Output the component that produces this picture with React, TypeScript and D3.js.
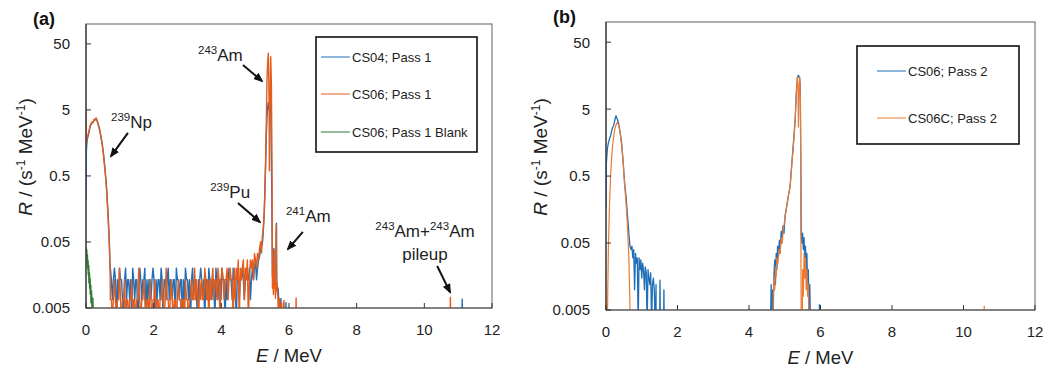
import React from 'react';
import * as d3 from 'd3';

type Pt = [number, number];

const BLUE = '#1f6fb8';
const ORANGE_A = '#e45d1c';
const ORANGE_B = '#ec7a32';
const GREEN = '#2e7d32';

const xTicks = [0, 2, 4, 6, 8, 10, 12];
const yTicks = [0.005, 0.05, 0.5, 5, 50];
const yTickLabels = ['0.005', '0.05', '0.5', '5', '50'];

// ---- panel (a) ----
// 239Np hump, [E MeV, R s-1 MeV-1]
const npA_CS04: Pt[] = [
  [0, 0.22], [0.01, 1.2], [0.03, 1.7], [0.06, 2.0], [0.09, 2.3], [0.12, 2.8], [0.15, 3.0],
  [0.18, 3.2], [0.21, 3.3], [0.24, 3.5], [0.27, 3.6], [0.30, 3.7], [0.33, 3.4], [0.36, 3.0],
  [0.40, 2.5], [0.44, 2.0], [0.48, 1.5], [0.52, 1.05], [0.56, 0.65], [0.60, 0.38],
  [0.63, 0.21], [0.66, 0.11], [0.69, 0.05], [0.71, 0.022],
];
const npA_CS06: Pt[] = [
  [0, 5.0], [0.01, 1.5], [0.03, 1.9], [0.06, 2.1], [0.09, 2.4], [0.12, 2.9], [0.15, 3.1],
  [0.18, 3.3], [0.21, 3.2], [0.24, 3.6], [0.27, 3.5], [0.30, 3.8], [0.33, 3.4], [0.36, 3.1],
  [0.40, 2.6], [0.44, 2.0], [0.48, 1.5], [0.52, 1.0], [0.56, 0.62], [0.60, 0.36],
  [0.63, 0.2], [0.66, 0.1], [0.69, 0.045], [0.71, 0.02],
];
const blankA_CS06: Pt[] = [
  [0, 0.042], [0.01, 0.03], [0.02, 0.038], [0.03, 0.024], [0.04, 0.032], [0.05, 0.02],
  [0.06, 0.026], [0.07, 0.016], [0.08, 0.022], [0.09, 0.012], [0.10, 0.017], [0.11, 0.01],
  [0.12, 0.014], [0.13, 0.008], [0.14, 0.011], [0.15, 0.006], [0.16, 0.009], [0.18, 0.005],
  [0.20, 0.007], [0.22, 0],
];

// low-level background, counts per 0.03 MeV channel starting at 0.72 MeV
const bgStartA = 0.72;
const bgStepA = 0.03;
const ratePerCountA = 0.0067;
const bgA_CS04 = [
  3, 2, 1, 2, 3, 2, 0, 2, 1, 3, 2, 2, 1, 0, 2, 3, 1, 2, 2, 1,
  2, 0, 3, 2, 1, 2, 2, 0, 1, 3, 2, 1, 2, 2, 3, 0, 2, 1, 2, 2,
  1, 2, 3, 2, 0, 2, 1, 2, 2, 1, 3, 2, 0, 2, 2, 1, 2, 3, 1, 2,
  2, 1, 2, 2, 0, 3, 2, 2, 1, 2, 2, 0, 2, 1, 3, 2, 2, 1, 2, 0,
  2, 3, 1, 2, 2, 1, 0, 2, 2, 3, 2, 1, 2, 0, 2, 2, 1, 3, 2, 2,
  1, 2, 2, 0, 3, 2, 1, 2, 2, 1, 3, 2, 2, 0, 2, 1, 2, 3, 2, 2,
  1, 3, 2, 2, 0, 2, 3, 1, 2, 2, 3, 2, 1, 2, 3, 2, 2, 3, 1, 2,
  3, 2, 3, 4, 2, 3, 4,
];
const bgA_CS06 = [
  1, 1, 0, 1, 2, 1, 0, 1, 1, 3, 1, 0, 1, 1, 2, 0, 1, 1, 0, 1,
  1, 2, 0, 1, 1, 0, 1, 1, 3, 1, 0, 1, 1, 2, 1, 0, 1, 1, 0, 2,
  1, 0, 1, 1, 2, 0, 1, 1, 0, 1, 1, 2, 1, 0, 1, 3, 1, 1, 0, 1,
  2, 1, 0, 1, 1, 0, 1, 2, 1, 1, 0, 1, 1, 0, 2, 1, 1, 0, 1, 1,
  2, 1, 1, 3, 1, 2, 1, 0, 2, 1, 2, 1, 1, 3, 2, 1, 2, 0, 2, 1,
  2, 3, 1, 2, 2, 1, 3, 2, 0, 2, 3, 2, 1, 2, 2, 3, 1, 2, 3, 2,
  2, 0, 3, 1, 3, 2, 4, 0, 3, 2, 3, 4, 1, 3, 2, 4, 0, 2, 4, 3,
  4, 2, 5, 4, 3, 5, 4,
];

// 243Am doublet, 241Am shoulder, tail and pileup
const amA_CS04: Pt[] = [
  [5.13, 0.03], [5.16, 0.04], [5.19, 0.05], [5.21, 0.045], [5.23, 0.06], [5.25, 0.09],
  [5.27, 0.15], [5.29, 0.35], [5.31, 0.8], [5.33, 2.0], [5.35, 4.0], [5.37, 5.5], [5.39, 6.5],
  [5.41, 5.0], [5.43, 6.0], [5.45, 6.3], [5.47, 3.0], [5.49, 0.3], [5.51, 0.015], [5.53, 0.02],
  [5.55, 0.04], [5.57, 0.015], [5.59, 0.01], [5.61, 0.02], [5.63, 0.096], [5.64, 0.012],
  [5.66, 0.008], [5.68, 0.01], [5.70, 0.006], [5.72, 0], [5.76, 0.007], [5.78, 0],
  [5.90, 0], [5.91, 0.006], [5.92, 0], [11.11, 0], [11.12, 0.0068], [11.13, 0], [12, 0],
];
const amA_CS06: Pt[] = [
  [5.13, 0.04], [5.16, 0.05], [5.19, 0.034], [5.21, 0.06], [5.23, 0.07], [5.25, 0.1],
  [5.27, 0.14], [5.29, 0.3], [5.31, 0.9], [5.33, 3.5], [5.35, 14], [5.37, 28], [5.39, 36],
  [5.41, 8], [5.42, 0.6], [5.44, 5], [5.46, 32], [5.48, 12], [5.50, 0.5], [5.51, 0.01],
  [5.52, 0.013], [5.54, 0.008], [5.56, 0.038], [5.57, 0.01], [5.59, 0.012], [5.60, 0.007],
  [5.62, 0.09], [5.63, 0.009], [5.65, 0.012], [5.67, 0.008], [5.69, 0], [5.72, 0.007],
  [5.74, 0], [5.78, 0.006], [5.80, 0], [5.85, 0.0065], [5.87, 0], [6.20, 0], [6.21, 0.0071],
  [6.22, 0], [10.76, 0], [10.77, 0.0073], [10.78, 0], [12, 0],
];

// ---- panel (b) ----
const npB_CS06: Pt[] = [
  [0, 0.17], [0.01, 0.78], [0.04, 1.3], [0.07, 1.6], [0.10, 1.8], [0.13, 2.0], [0.16, 2.4],
  [0.19, 2.7], [0.22, 2.9], [0.25, 3.5], [0.28, 4.0], [0.31, 3.6], [0.34, 3.3], [0.37, 2.7],
  [0.40, 2.2], [0.44, 1.5], [0.48, 0.8], [0.52, 0.4], [0.56, 0.25], [0.60, 0.13],
  [0.64, 0.07], [0.67, 0.045],
];
// R per 0.025 MeV channel starting at 0.70 MeV
const bgStartB = 0.70;
const bgStepB = 0.025;
const bgB_CS06 = [
  0.04, 0.045, 0.03, 0.04, 0.01, 0.035, 0.025, 0.03, 0, 0.03,
  0.02, 0.028, 0.015, 0.025, 0.02, 0.01, 0.022, 0.018, 0, 0.02,
  0.015, 0.012, 0.018, 0, 0.012, 0.015, 0.01, 0, 0.012,
];
const amB_CS06: Pt[] = [
  [1.40, 0], [1.50, 0], [1.51, 0.014], [1.52, 0], [1.61, 0], [1.62, 0.01], [1.63, 0],
  [4.60, 0], [4.62, 0.012], [4.63, 0], [4.66, 0.01], [4.67, 0], [4.70, 0.018], [4.72, 0.028],
  [4.74, 0.012], [4.76, 0.035], [4.78, 0.02], [4.80, 0.045], [4.82, 0.03], [4.85, 0.055],
  [4.87, 0.035], [4.90, 0.075], [4.92, 0.05], [4.95, 0.09], [4.98, 0.07], [5.01, 0.13],
  [5.05, 0.17], [5.10, 0.25], [5.15, 0.35], [5.19, 0.69], [5.24, 1.5], [5.29, 3.4],
  [5.33, 10], [5.36, 15], [5.38, 16], [5.41, 15], [5.43, 12], [5.45, 1.0], [5.46, 0.07],
  [5.48, 0.05], [5.50, 0.07], [5.52, 0.04], [5.54, 0.06], [5.56, 0.03], [5.58, 0.045],
  [5.60, 0.02], [5.62, 0.035], [5.64, 0.01], [5.66, 0.02], [5.68, 0], [5.70, 0.012],
  [5.72, 0], [5.96, 0], [5.97, 0.006], [5.98, 0], [12, 0],
];
const npB_CS06C: Pt[] = [
  [0, 0], [0.04, 0], [0.05, 0.01], [0.07, 0.05], [0.10, 0.2], [0.13, 0.5], [0.16, 1.0],
  [0.20, 1.7], [0.24, 2.4], [0.28, 2.9], [0.32, 3.2], [0.36, 2.8], [0.40, 2.1], [0.44, 1.4],
  [0.48, 0.8], [0.52, 0.38], [0.56, 0.2], [0.60, 0.09], [0.64, 0.03], [0.66, 0.01], [0.68, 0],
];
const amB_CS06C: Pt[] = [
  [4.66, 0], [4.68, 0.008], [4.70, 0.015], [4.72, 0.01], [4.74, 0.022], [4.76, 0.016],
  [4.78, 0.03], [4.81, 0.025], [4.84, 0.04], [4.87, 0.035], [4.90, 0.06], [4.93, 0.05],
  [4.96, 0.08], [5.00, 0.11], [5.05, 0.17], [5.10, 0.25], [5.15, 0.35], [5.19, 0.65],
  [5.24, 1.4], [5.29, 3.2], [5.32, 8], [5.35, 15], [5.37, 12], [5.38, 2.7], [5.40, 9],
  [5.42, 15], [5.44, 6], [5.45, 0.1], [5.46, 0], [5.49, 0], [5.50, 0.02], [5.52, 0.008],
  [5.54, 0.035], [5.56, 0.015], [5.58, 0.03], [5.60, 0.01], [5.62, 0.02], [5.64, 0.008],
  [5.66, 0.012], [5.68, 0], [10.57, 0], [10.58, 0.0057], [10.59, 0], [12, 0],
];

const fromCounts = (start: number, step: number, counts: number[], k: number): Pt[] =>
  counts.map((c, i) => [start + i * step, c * k] as Pt);

const seriesA = [
  { name: 'CS04; Pass 1', color: BLUE, width: 1.4, data: [...npA_CS04, ...fromCounts(bgStartA, bgStepA, bgA_CS04, ratePerCountA), ...amA_CS04] },
  { name: 'CS06; Pass 1', color: ORANGE_A, width: 1.4, data: [...npA_CS06, ...fromCounts(bgStartA, bgStepA, bgA_CS06, ratePerCountA), ...amA_CS06] },
  { name: 'CS06; Pass 1 Blank', color: GREEN, width: 1.6, data: blankA_CS06 },
];
const seriesB = [
  { name: 'CS06; Pass 2', color: BLUE, width: 1.3, data: [...npB_CS06, ...fromCounts(bgStartB, bgStepB, bgB_CS06, 1), ...amB_CS06] },
  { name: 'CS06C; Pass 2', color: ORANGE_B, width: 1.2, data: [...npB_CS06C, ...amB_CS06C] },
];

type Note = { sup?: string; el: string; at: Pt; arrow?: [Pt, Pt]; anchor?: string };
const notesA: Note[] = [
  { sup: '243', el: 'Am', at: [3.31, 27.6], arrow: [[4.64, 24], [5.2, 13.7]] },
  { sup: '239', el: 'Np', at: [0.74, 2.67], arrow: [[1.24, 2.24], [0.74, 1.0]] },
  { sup: '239', el: 'Pu', at: [3.67, 0.232], arrow: [[4.49, 0.195], [5.14, 0.1]] },
  { sup: '241', el: 'Am', at: [5.91, 0.1], arrow: [[6.41, 0.071], [5.97, 0.039]] },
  { el: 'pileup', at: [10.02, 0.0267], anchor: 'middle', arrow: [[10.38, 0.0216], [10.76, 0.0087]] },
];
const pileupAt: Pt = [10.02, 0.0595];

const FONT = '"Liberation Sans", Arial, sans-serif';

type Box = { l: number; r: number; t: number; b: number };

function Panel({ id, box, series, tag, legend, notes, titleX }: {
  id: string; box: Box; series: { name: string; color: string; width: number; data: Pt[] }[];
  tag: string; legend: { x: number; y: number; w: number; h: number; rows: number[]; lx: number };
  notes: Note[]; titleX: number;
}) {
  const x = d3.scaleLinear().domain([0, 12]).range([box.l, box.r]);
  const y = d3.scaleLog().domain([0.005, 100]).range([box.b, box.t]);
  const line = d3.line<Pt>().x(d => x(d[0])).y(d => y(Math.max(d[1], 0.003)));
  const midY = (box.t + box.b) / 2 - 9;
  return (
    <g fontFamily={FONT}>
      <defs>
        <clipPath id={`clip-${id}`}>
          <rect x={box.l} y={box.t} width={box.r - box.l} height={box.b - box.t} />
        </clipPath>
      </defs>
      <rect x={box.l} y={box.t} width={box.r - box.l} height={box.b - box.t} fill="none" stroke="#7a7a7a" strokeWidth={1.2} />
      <g clipPath={`url(#clip-${id})`}>
        {series.map(s => (
          <path key={s.name} d={line(s.data) || ''} fill="none" stroke={s.color} strokeWidth={s.width} strokeLinejoin="round" />
        ))}
      </g>
      <line x1={box.l} x2={box.l} y1={box.t} y2={box.b} stroke="#333" strokeWidth={1.2} />
      <line x1={box.l} x2={box.r} y1={box.b} y2={box.b} stroke="#555" strokeWidth={1.2} />
      {xTicks.map(t => (
        <g key={t}>
          <line x1={x(t)} x2={x(t)} y1={box.b} y2={box.b - 5} stroke="#333" />
          <text x={x(t)} y={box.b + 27} textAnchor="middle" fontSize={15} fill="#222">{t}</text>
        </g>
      ))}
      {yTicks.map((t, i) => (
        <g key={t}>
          <line x1={box.l} x2={box.l + 5} y1={y(t)} y2={y(t)} stroke="#333" />
          <text x={box.l - 16} y={y(t)} dy="0.36em" textAnchor="end" fontSize={15} fill="#222">{yTickLabels[i]}</text>
        </g>
      ))}
      <text x={titleX} y={midY} transform={`rotate(-90 ${titleX} ${midY})`} textAnchor="middle" fontSize={19} fill="#222">
        <tspan fontStyle="italic">R</tspan> / (s<tspan fontSize={12} dy={-7}>-1</tspan>
        <tspan dy={7}> MeV</tspan><tspan fontSize={12} dy={-7}>-1</tspan><tspan dy={7}>)</tspan>
      </text>
      <text x={(box.l + box.r) / 2} y={box.b + 54} textAnchor="middle" fontSize={18.5} fill="#222">
        <tspan fontStyle="italic">E</tspan> / MeV
      </text>
      <text x={box.l - 53} y={box.t + 1} fontSize={18} fontWeight="bold" fill="#111">{tag}</text>
      <rect x={legend.x} y={legend.y} width={legend.w} height={legend.h} fill="#fff" stroke="#111" strokeWidth={1.6} />
      {series.map((s, i) => (
        <g key={s.name}>
          <line x1={legend.lx} x2={legend.lx + 29} y1={legend.y + legend.rows[i]} y2={legend.y + legend.rows[i]} stroke={s.color} strokeWidth={1} />
          <text x={legend.lx + 31} y={legend.y + legend.rows[i]} dy="0.36em" fontSize={13} fill="#222">{s.name}</text>
        </g>
      ))}
      {notes.map((n, i) => (
        <g key={i}>
          <text x={x(n.at[0])} y={y(n.at[1])} fontSize={17} textAnchor={n.anchor || 'start'} fill="#222">
            {n.sup ? <tspan fontSize={11.5} dy={-7}>{n.sup}</tspan> : null}
            <tspan dy={n.sup ? 7 : 0}>{n.el}</tspan>
          </text>
          {n.arrow ? (
            <line x1={x(n.arrow[0][0])} y1={y(n.arrow[0][1])} x2={x(n.arrow[1][0])} y2={y(n.arrow[1][1])}
              stroke="#111" strokeWidth={2} markerEnd="url(#arrowhead)" />
          ) : null}
        </g>
      ))}
      {id === 'a' ? (
        <text x={x(pileupAt[0])} y={y(pileupAt[1])} textAnchor="middle" fontSize={17} fill="#222">
          <tspan fontSize={11.5} dy={-7}>243</tspan><tspan dy={7}>Am+</tspan>
          <tspan fontSize={11.5} dy={-7}>243</tspan><tspan dy={7}>Am</tspan>
        </text>
      ) : null}
    </g>
  );
}

export default function App() {
  return (
    <svg width={1048} height={373} style={{ position: 'absolute', left: 0, top: 0, background: '#fff' }}>
      <defs>
        <marker id="arrowhead" markerUnits="userSpaceOnUse" markerWidth={10} markerHeight={10} refX={8} refY={5} orient="auto">
          <path d="M0,1 L10,5 L0,9 Z" fill="#111" />
        </marker>
      </defs>
      <rect width={1048} height={373} fill="#fff" />
      <Panel id="a" box={{ l: 86, r: 492, t: 24, b: 308 }} series={seriesA} tag="(a)"
        legend={{ x: 316, y: 37, w: 161, h: 115, rows: [20, 57, 95], lx: 321 }} notes={notesA} titleX={32} />
      <Panel id="b" box={{ l: 606, r: 1035, t: 22, b: 310 }} series={seriesB} tag="(b)"
        legend={{ x: 857, y: 46, w: 162, h: 98, rows: [25, 72], lx: 877 }} notes={[]} titleX={547} />
    </svg>
  );
}
